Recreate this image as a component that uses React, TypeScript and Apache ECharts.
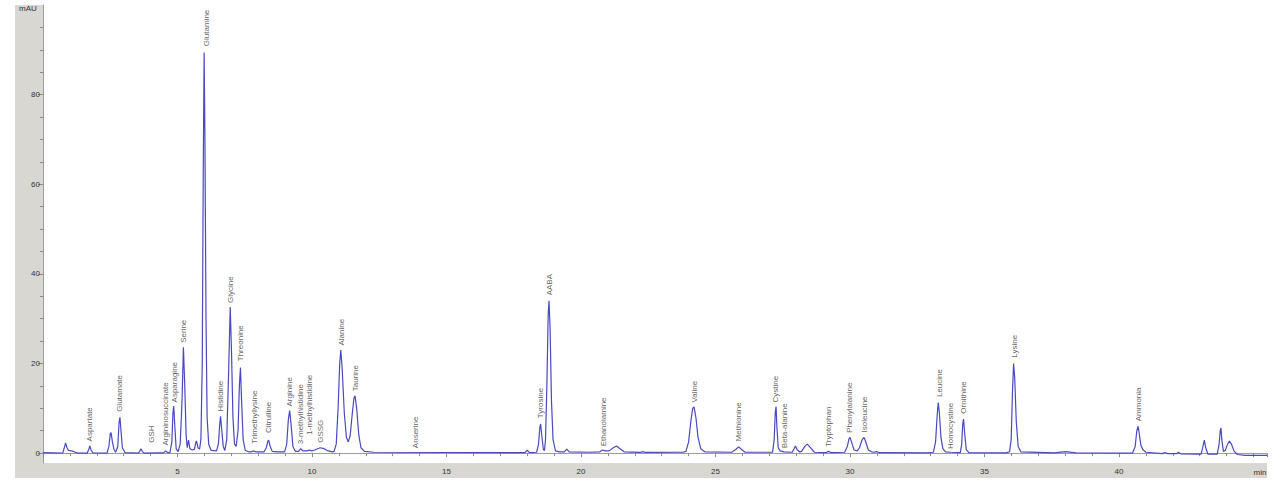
import { useEffect, useRef } from "react";
import * as echarts from "echarts";

// Chromatogram trace: [retention time (min), absorbance (mAU)]
const trace: [number, number][] = [
  [0, 0.1], [0.7, 0.0],
  [0.74, 0.1], [0.8, 1.4], [0.84, 2.3], [0.89, 1.2], [0.95, 0.6], [1.07, 0.5], [1.2, 0.2], [1.3, 0.0],
  [1.64, 0.0], [1.7, 0.8], [1.74, 1.6], [1.79, 0.6], [1.86, 0.05],
  [2.38, 0.0], [2.45, 1.5], [2.5, 4.3], [2.53, 4.6], [2.58, 2.5], [2.64, 0.8], [2.7, 0.2],
  [2.78, 1.5], [2.83, 7.0], [2.86, 8.0], [2.9, 5.0], [2.95, 1.2], [3.05, 0.1],
  [3.55, 0.0], [3.61, 0.6], [3.64, 1.0], [3.69, 0.4], [3.76, 0.0],
  [4.4, 0.05], [4.48, 0.05], [4.56, 0.5], [4.64, 0.1],
  [4.72, 0.1], [4.79, 2.5], [4.83, 9.0], [4.86, 10.5], [4.9, 6.0], [4.95, 1.0],
  [5.02, 0.3], [5.1, 2.0], [5.17, 12], [5.22, 23.6], [5.27, 15], [5.32, 4], [5.36, 1.2],
  [5.41, 2.9], [5.46, 1.0], [5.55, 0.7], [5.63, 0.9], [5.68, 2.4], [5.71, 2.7], [5.76, 1.2],
  [5.82, 0.9], [5.87, 3], [5.92, 20], [5.96, 65], [5.99, 89.4], [6.02, 70], [6.06, 30], [6.1, 8], [6.16, 2], [6.25, 0.6],
  [6.45, 0.5], [6.52, 2], [6.57, 6.5], [6.6, 8.2], [6.64, 5.5], [6.7, 1.5], [6.76, 0.6],
  [6.83, 3], [6.9, 18], [6.96, 32.6], [7.01, 22], [7.06, 8], [7.12, 2],
  [7.18, 1.5], [7.25, 5], [7.3, 15], [7.34, 19.1], [7.38, 12], [7.44, 3], [7.52, 0.6], [7.65, 0.3],
  [7.75, 0.3], [7.81, 0.5], [7.9, 0.3],
  [8.22, 0.3], [8.3, 1.2], [8.36, 2.7], [8.39, 2.9], [8.44, 1.6], [8.52, 0.4], [8.7, 0.3],
  [8.98, 0.3], [9.06, 2], [9.12, 7.5], [9.17, 9.5], [9.22, 6.5], [9.29, 1.5], [9.38, 0.4],
  [9.5, 0.4], [9.58, 1.0], [9.66, 0.5],
  [9.82, 0.5], [9.9, 0.7], [9.98, 0.5],
  [10.1, 0.7], [10.3, 1.2], [10.45, 1.0], [10.6, 0.5], [10.75, 0.3],
  [10.82, 0.4], [10.9, 2], [10.97, 10], [11.03, 20], [11.07, 23], [11.12, 19], [11.2, 9], [11.28, 3.5], [11.35, 2.5],
  [11.42, 4], [11.5, 9], [11.56, 12.3], [11.6, 12.8], [11.66, 10], [11.74, 4], [11.82, 1.2], [11.95, 0.4], [12.3, 0.2],
  [17.5, 0.1],
  [17.92, 0.1], [18.0, 0.7], [18.08, 0.1],
  [18.35, 0.2], [18.42, 2], [18.47, 5.8], [18.5, 6.5], [18.54, 4], [18.6, 0.8], [18.64, 0.6],
  [18.68, 3], [18.73, 15], [18.78, 31], [18.81, 34], [18.85, 28], [18.9, 12], [18.96, 3], [19.05, 0.5], [19.2, 0.3],
  [19.38, 0.3], [19.47, 0.9], [19.56, 0.3],
  [20.3, 0.2], [20.7, 0.3], [20.8, 0.7], [20.9, 0.5],
  [21.05, 0.5], [21.2, 1.2], [21.32, 1.6], [21.45, 1.0], [21.6, 0.3],
  [22.2, 0.15], [22.3, 0.35], [22.4, 0.15],
  [23.8, 0.2],
  [23.9, 0.4], [24.0, 2.5], [24.08, 7], [24.15, 10], [24.2, 10.3], [24.27, 8], [24.35, 3.5], [24.45, 1], [24.6, 0.3],
  [25.6, 0.2], [25.75, 0.8], [25.86, 1.4], [25.97, 0.8], [26.1, 0.2],
  [27.12, 0.2], [27.18, 3], [27.22, 9], [27.25, 10.4], [27.28, 6], [27.33, 1.2], [27.4, 0.5], [27.55, 0.3],
  [27.85, 0.2], [27.92, 1.0], [27.97, 1.6], [28.03, 0.8], [28.12, 0.3],
  [28.2, 0.4], [28.32, 1.5], [28.41, 2.0], [28.52, 1.3], [28.68, 0.2],
  [29.1, 0.1], [29.2, 0.4], [29.3, 0.1],
  [29.8, 0.2], [29.9, 1.5], [29.96, 3.2], [30.0, 3.5], [30.06, 2.4], [30.15, 0.7], [30.27, 0.5],
  [30.35, 1.2], [30.45, 3.0], [30.52, 3.5], [30.58, 2.6], [30.68, 0.7], [30.8, 0.3],
  [30.9, 0.2], [30.98, 0.35], [31.1, 0.1],
  [32.9, 0.05],
  [33.1, 0.2], [33.18, 2.5], [33.24, 8.5], [33.28, 11.3], [33.32, 9], [33.38, 3.5], [33.45, 1], [33.55, 0.3],
  [33.75, 0.2],
  [34.1, 0.1], [34.15, 2], [34.19, 6.5], [34.22, 7.6], [34.26, 4.5], [34.32, 0.8], [34.42, 0.1],
  [35.8, 0.05],
  [35.93, 0.3], [35.99, 3], [36.04, 14], [36.08, 20], [36.12, 17], [36.18, 7], [36.25, 1.5], [36.35, 0.3],
  [37.6, 0.05], [38.0, 0.35], [38.4, 0.05],
  [40.5, 0.0],
  [40.52, 0.1], [40.6, 1.5], [40.66, 5], [40.71, 6], [40.76, 4], [40.81, 1.8], [40.88, 0.8], [41.0, 0.2],
  [41.6, -0.1], [41.7, 0.15], [41.8, -0.1],
  [42.15, -0.1], [42.2, 0.2], [42.3, -0.15],
  [43.05, -0.2], [43.12, 1.5], [43.17, 2.9], [43.22, 1.2], [43.3, -0.2],
  [43.65, -0.2], [43.72, 2], [43.76, 5], [43.79, 5.6], [43.82, 3], [43.88, 0.4], [43.95, 0.6],
  [44.02, 1.8], [44.1, 2.7], [44.18, 2.0], [44.28, 0.4], [44.4, -0.3], [44.7, -0.5], [45.5, -0.5],
];

// Peak annotations: name, retention time, value at the label's base
const peakNames = [
  "Aspartate", "Glutamate", "GSH", "Argininosuccinate", "Asparagine", "Serine", "Glutamine",
  "Histidine", "Glycine", "Threonine", "Trimethyllysine", "Citrulline", "Arginine",
  "3-methylhistidine", "1-methylhistidine", "GSSG", "Alanine", "Taurine", "Anserine",
  "Tyrosine", "AABA", "Ethanolamine", "Valine", "Methionine", "Cystine", "Beta-alanine",
  "Tryptophan", "Phenylalanine", "Isoleucine", "Leucine", "Homocystine", "Ornithine",
  "Lysine", "Ammonia",
];
const peakTimes = [
  1.74, 2.83, 4.04, 4.56, 4.9, 5.23, 6.07,
  6.61, 6.98, 7.35, 7.85, 8.39, 9.17,
  9.58, 9.92, 10.3, 11.1, 11.6, 13.86,
  18.5, 18.84, 20.82, 24.22, 25.86, 27.24, 27.55,
  29.2, 29.99, 30.55, 33.31, 33.75, 34.21,
  36.13, 40.74,
];
const labelBases = [
  2.5, 9.1, 2.2, 1.6, 11.2, 24.5, 90.7,
  9.2, 33.4, 20.4, 2.0, 4.4, 10.3,
  1.9, 4.0, 2.2, 23.9, 13.7, 1.0,
  7.7, 35.1, 1.4, 11.2, 2.5, 11.2, 1.0,
  1.3, 4.4, 4.5, 12.4, 0.8, 8.7,
  21.2, 7.0,
];

const yMajorTicks = [0, 20, 40, 60, 80];
const yMinorTicks = [5, 10, 15, 25, 30, 35, 45, 50, 55, 65, 70, 75, 85, 90, 95];

const FONT = "'Liberation Sans', Arial, sans-serif";

export default function App() {
  const ref = useRef<HTMLDivElement>(null);
  useEffect(() => {
    document.body.style.margin = "0";
    const chart = echarts.init(ref.current!, null, { renderer: "svg" });
    chart.setOption({
      animation: false,
      backgroundColor: "#ffffff",
      grid: { left: 43, right: 13, top: 5, bottom: 22 },
      graphic: [
        { type: "rect", z: -1, shape: { x: 15, y: 5, width: 28, height: 473 }, style: { fill: "#d9d7d1" } },
        { type: "rect", z: -1, shape: { x: 15, y: 463, width: 1252, height: 15 }, style: { fill: "#d9d7d1" } },
        { type: "text", x: 28, y: 8, style: { text: "mAU", fontSize: 8, fontFamily: FONT, fill: "#333", textAlign: "center", textVerticalAlign: "middle" } },
        { type: "text", x: 1260, y: 472, style: { text: "min", fontSize: 8, fontFamily: FONT, fill: "#333", textAlign: "center", textVerticalAlign: "middle" } },
      ],
      xAxis: {
        type: "value",
        min: 0,
        max: 45.5,
        interval: 5,
        axisLine: { lineStyle: { color: "#9c9c9c", width: 1 } },
        axisTick: { length: 4, lineStyle: { color: "#8a8a8a" } },
        minorTick: { show: true, splitNumber: 5, length: 3, lineStyle: { color: "#8a8a8a" } },
        axisLabel: {
          fontSize: 8, color: "#333", fontFamily: FONT, margin: 4,
          formatter: (v: number) => (v > 0 && v < 45 ? String(v) : ""),
        },
        splitLine: { show: false },
        minorSplitLine: { show: false },
      },
      yAxis: [
        {
          type: "value",
          min: -2.2,
          max: 100,
          axisLine: { show: true, lineStyle: { color: "#9c9c9c", width: 1 } },
          axisTick: { show: true, length: 5, customValues: yMajorTicks, lineStyle: { color: "#8a8a8a" } },
          axisLabel: { fontSize: 8, color: "#333", fontFamily: FONT, margin: 3, customValues: yMajorTicks },
          splitLine: { show: false },
        },
        {
          type: "value",
          position: "left",
          min: -2.2,
          max: 100,
          axisLine: { show: false },
          axisTick: { show: true, length: 3, customValues: yMinorTicks, lineStyle: { color: "#8a8a8a" } },
          axisLabel: { show: false },
          splitLine: { show: false },
        },
      ],
      series: [
        {
          type: "line",
          data: trace,
          yAxisIndex: 0,
          showSymbol: false,
          symbol: "none",
          lineStyle: { color: "#4848c4", width: 1.2 },
          z: 3,
        },
        {
          type: "scatter",
          yAxisIndex: 0,
          symbol: "circle",
          symbolSize: 1,
          itemStyle: { color: "rgba(0,0,0,0)" },
          data: peakNames.map((n, i) => ({ name: n, value: [peakTimes[i], labelBases[i]] })),
          label: {
            show: true,
            position: "top",
            distance: 0,
            rotate: 90,
            align: "left",
            verticalAlign: "middle",
            formatter: "{b}",
            fontSize: 8,
            fontFamily: FONT,
            color: "#333",
          },
          silent: true,
          z: 4,
        },
      ],
    });
    return () => chart.dispose();
  }, []);
  return <div ref={ref} style={{ width: 1280, height: 485 }} />;
}
